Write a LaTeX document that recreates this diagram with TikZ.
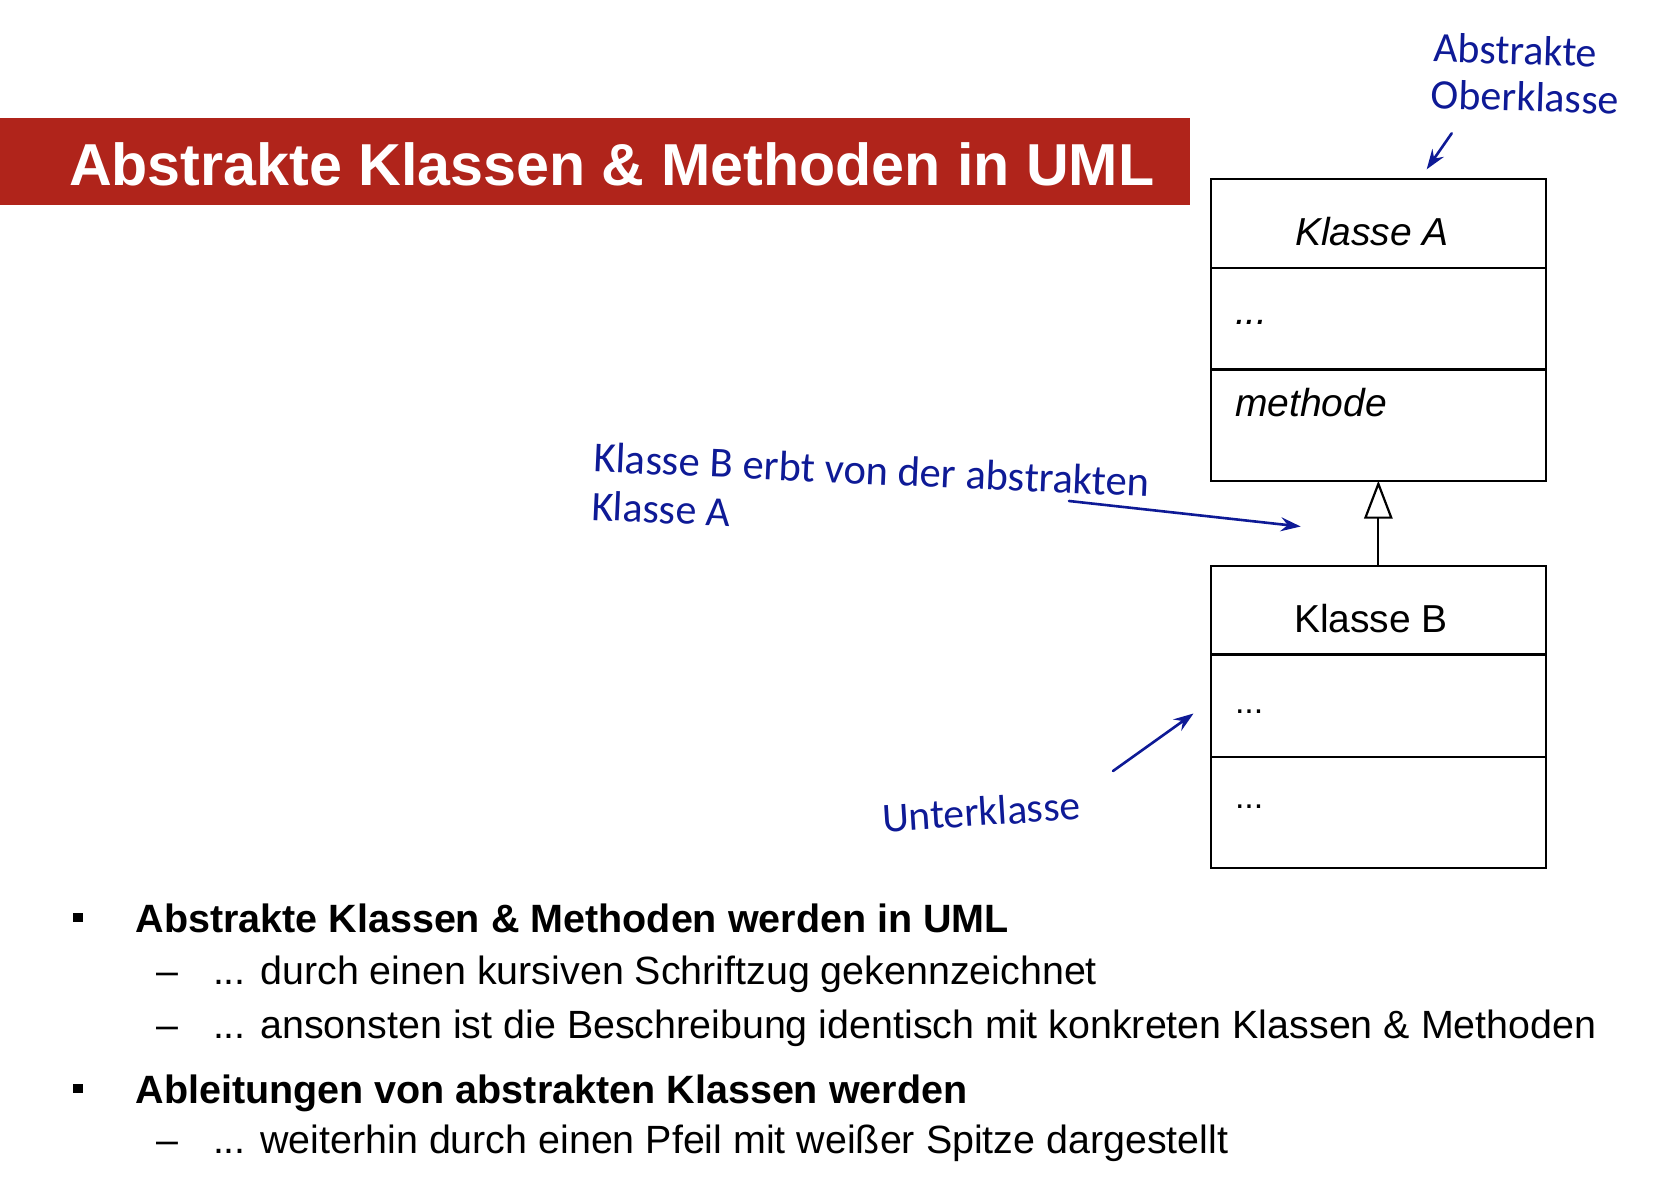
\documentclass[tikz,border=0pt]{standalone}
\usepackage{fontspec}
\setmainfont{Liberation Sans}
\newfontfamily\handfont{Carlito}
\usetikzlibrary{arrows.meta}
\definecolor{titlered}{RGB}{176,36,27}
\definecolor{inkblue}{RGB}{14,26,150}

\begin{document}
\begin{tikzpicture}[x=0.5pt,y=-0.5pt,
  txt/.style={inner sep=0pt, outer sep=0pt, anchor=base west},
  body/.style={txt, font=\fontsize{19.7pt}{24pt}\selectfont},
  bodybold/.style={txt, font=\fontsize{19.75pt}{24pt}\selectfont\bfseries},
  clstext/.style={txt, font=\fontsize{19.5pt}{23pt}\selectfont},
  dotstext/.style={txt, font=\fontsize{17pt}{20pt}\selectfont},
  part/.style={draw, line width=1.2pt, anchor=north west, minimum width=167.65pt, inner sep=0pt, outer sep=0pt},
  ink/.style={txt, text=inkblue, font=\handfont\fontsize{21pt}{24pt}\selectfont},
  inkarrow/.style={draw=inkblue, line width=1.3pt, line cap=round, -{Stealth[length=10pt, width=7pt, inset=3.5pt]}},
  bulletsq/.style={fill=black, inner sep=0pt, minimum width=5pt, minimum height=4.6pt},
]
\useasboundingbox (0,0) rectangle (1654,1198);
\fill[white] (0,0) rectangle (1654,1198);

% title bar
\node[fill=titlered, anchor=north west, minimum width=595pt, minimum height=43.5pt, inner sep=0pt] (bar) at (0,118) {};
\node[txt, text=white, font=\fontsize{29.6pt}{36pt}\selectfont\bfseries] (title) at (69,186) {Abstrakte Klassen \& Methoden in UML};

% abstract class A
\node[part, minimum height=44.5pt] (A1) at (1210.7,179.3) {};
\node[part, minimum height=50.5pt] (A2) at (1210.7,268.3) {};
\node[part, minimum height=55.7pt] (A3) at (1210.7,369.3) {};
\node[clstext] (nameA) at (1295,246) {\itshape Klasse A};
\node[clstext] (attrA) at (1235,324) {\itshape ...};
\node[clstext] (methA) at (1235,416.7) {\itshape methode};

% subclass B
\node[part, minimum height=44.15pt] (B1) at (1210.7,566) {};
\node[part, minimum height=51.2pt] (B2) at (1210.7,654.3) {};
\node[part, minimum height=55.5pt] (B3) at (1210.7,756.7) {};
\node[clstext] (nameB) at (1294,632.7) {Klasse B};
\node[dotstext] (attrB) at (1235,713.3) {...};
\node[dotstext] (methB) at (1235,808.3) {...};

% generalization
\draw[line width=1.1pt, line join=miter, -{Triangle[open, length=19pt, width=14.2pt]}] (B1.north) -- (A3.south);

% handwritten annotations
\node[ink, rotate=-1.8] (ob1) at (1433.3,61.7) {Abstrakte};
\node[ink, rotate=-1.8] (ob2) at (1430.7,108.3) {Oberklasse};
\coordinate (obS) at (1451.7,133.3);
\coordinate (obT) at (1426.7,169.3);
\draw[inkarrow] (obS) -- (obT);

\node[ink, rotate=-2.6, font=\handfont\fontsize{21.3pt}{24pt}\selectfont] (er1) at (593,471.7) {Klasse B erbt von der abstrakten};
\node[ink, rotate=-2.6] (er2) at (591,520) {Klasse A};
\coordinate (erS) at (1069,501);
\coordinate (erT) at (1300.7,526.5);
\draw[inkarrow] (erS) -- (erT);

\node[ink, rotate=3.6, font=\handfont\fontsize{20.8pt}{24pt}\selectfont] (uk) at (883,832) {Unterklasse};
\coordinate (ukS) at (1113,771);
\coordinate (ukT) at (1193.5,713.5);
\draw[inkarrow] (ukS) -- (ukT);

% bullet list
\node[bulletsq] (b1) at (78.3,917.8) {};
\node[bodybold] (t1) at (135.5,932.3) {Abstrakte Klassen \& Methoden werden in UML};
\node[body] (d1) at (156.7,984.3) {–};
\node[body] (t11) at (213,984.3) {... durch einen kursiven Schriftzug gekennzeichnet};
\node[body] (d2) at (156.7,1038.3) {–};
\node[body] (t12) at (213,1038.3) {... ansonsten ist die Beschreibung identisch mit konkreten Klassen \& Methoden};
\node[bulletsq] (b2) at (78.3,1088.8) {};
\node[bodybold] (t2) at (135.5,1103.3) {Ableitungen von abstrakten Klassen werden};
\node[body] (d3) at (156.7,1153) {–};
\node[body] (t21) at (213,1153) {... weiterhin durch einen Pfeil mit weißer Spitze dargestellt};
\end{tikzpicture}
\end{document}
